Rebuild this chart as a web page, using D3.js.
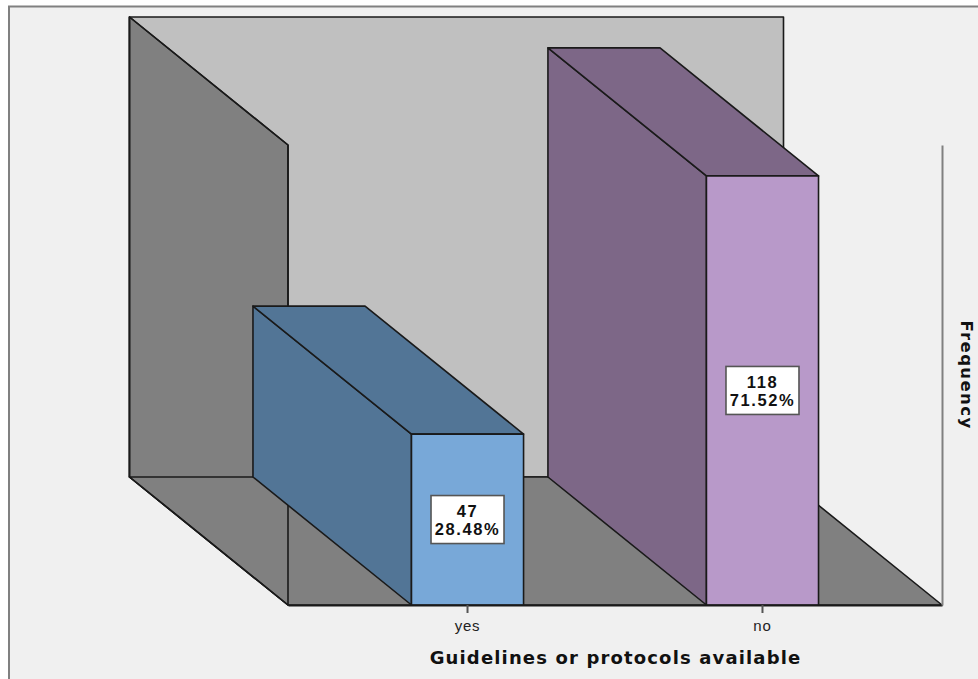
<!DOCTYPE html>
<html>
<head>
<meta charset="utf-8">
<script src="https://cdn.jsdelivr.net/npm/d3@7"></script>
<style>
html, body { margin: 0; padding: 0; background: #fff; }
svg { display: block; }
text { font-family: "Liberation Sans", Arial, sans-serif; fill: #111; }
</style>
</head>
<body>
<svg id="chart" width="978" height="679"></svg>
<script>
// Counts of respondents by availability of guidelines or protocols
const categories = ["yes", "no"];
const counts = [47, 118];
const percents = ["28.48%", "71.52%"];
const barFronts = ["#78a8d8", "#b899c9"];
const barSides = ["#527596", "#7d6787"];
const axisMax = 126.5;

const W = 978, H = 679;
const plotLeft = 288, plotRight = 942, plotBottom = 605, plotTop = 145;
const depthX = 158.5, depthY = 128; // oblique offset of the back plane
const edge = "#1a1a1a";

const svg = d3.select("#chart");

const x = d3.scaleBand().domain(categories).range([plotLeft, plotRight])
  .paddingInner(0.62).paddingOuter(0.4186);
const y = d3.scaleLinear().domain([0, axisMax]).range([plotBottom, plotTop]);

const poly = d3.line();
const face = (pts, fill, parent = svg) => parent.append("path")
  .attr("d", poly(pts) + "Z").attr("fill", fill)
  .attr("stroke", edge).attr("stroke-width", 1.6).attr("stroke-linejoin", "round");

// Panel background and its left and top frame
svg.append("rect").attr("x", 9).attr("y", 6).attr("width", W - 9).attr("height", H - 6).attr("fill", "#f0f0f0");
svg.append("path").attr("d", "M9,679V6.5H978").attr("fill", "none").attr("stroke", "#808080").attr("stroke-width", 2);

// 3-D box: back wall, floor, then left wall outline over the floor
const top0 = y(axisMax), base = y(0);
const wallPts = [[plotLeft - depthX, top0 - depthY], [plotLeft, top0],
                 [plotLeft, base], [plotLeft - depthX, base - depthY]];
face([[plotLeft - depthX, top0 - depthY], [plotRight - depthX, top0 - depthY],
      [plotRight - depthX, base - depthY], [plotLeft - depthX, base - depthY]], "#c0c0c0");
face(wallPts, "#808080");
face([[plotLeft - depthX, base - depthY], [plotRight - depthX, base - depthY],
      [plotRight, base], [plotLeft, base]], "#808080");
face(wallPts, "none");

// Bars: side face, top face, front face
const bars = svg.append("g");
categories.forEach((c, i) => {
  const x0 = x(c), x1 = x0 + x.bandwidth(), yt = y(counts[i]);
  face([[x0 - depthX, yt - depthY], [x0, yt], [x0, base], [x0 - depthX, base - depthY]], barSides[i], bars);
  face([[x0 - depthX, yt - depthY], [x1 - depthX, yt - depthY], [x1, yt], [x0, yt]], barSides[i], bars);
  face([[x0, yt], [x1, yt], [x1, base], [x0, base]], barFronts[i], bars);
});

// Value labels in white boxes at the middle of each front face
categories.forEach((c, i) => {
  const cx = x(c) + x.bandwidth() / 2, cy = (y(counts[i]) + base) / 2;
  const g = svg.append("g").attr("transform", `translate(${cx},${cy})`);
  g.append("rect").attr("x", -36.5).attr("y", -24).attr("width", 73).attr("height", 48)
    .attr("fill", "#fff").attr("stroke", "#555").attr("stroke-width", 1.6);
  [counts[i], percents[i]].forEach((t, k) => g.append("text")
    .attr("text-anchor", "middle").attr("y", k === 0 ? -2.5 : 15.5)
    .style("font-size", "16.5px").style("font-weight", 700).style("letter-spacing", "1.6px").text(t));
});

// Category axis
const xAxis = svg.append("g").attr("transform", `translate(0,${plotBottom})`)
  .call(d3.axisBottom(x).tickSize(8).tickSizeOuter(0).tickPadding(7));
xAxis.select(".domain").attr("stroke", edge).attr("stroke-width", 2);
xAxis.selectAll(".tick line").attr("stroke", "#555").attr("stroke-width", 2);
xAxis.selectAll(".tick text").style("font-size", "15px").style("letter-spacing", "0.8px")
  .style("font-family", '"Liberation Sans", Arial, sans-serif').style("fill", "#222");

// Frequency axis line, without ticks
const yAxis = svg.append("g").attr("transform", `translate(${plotRight},0)`)
  .call(d3.axisRight(y).tickValues([]).tickSizeOuter(0));
yAxis.select(".domain").attr("stroke", "#808080").attr("stroke-width", 2);

// Axis titles
svg.append("text").attr("x", 615.5).attr("y", 664).attr("text-anchor", "middle")
  .style("font-family", '"DejaVu Sans", sans-serif')
  .style("font-size", "18px").style("font-weight", 700).style("letter-spacing", "1.15px")
  .text("Guidelines or protocols available");
svg.append("text").attr("transform", "translate(961,375) rotate(90)").attr("text-anchor", "middle")
  .style("font-family", '"DejaVu Sans", sans-serif')
  .style("font-size", "16.5px").style("font-weight", 700).style("letter-spacing", "1.4px")
  .text("Frequency");
</script>
</body>
</html>
